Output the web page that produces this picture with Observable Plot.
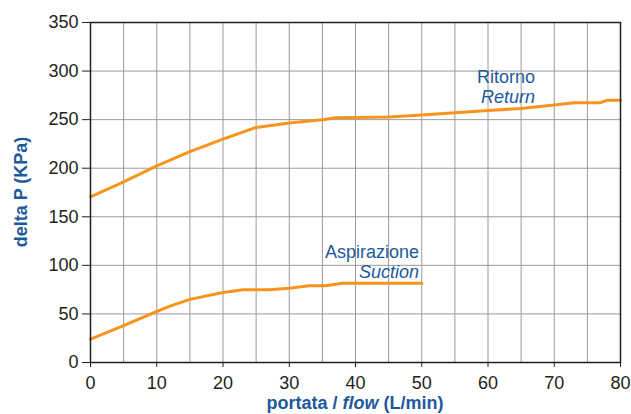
<!DOCTYPE html>
<html>
<head>
<meta charset="utf-8">
<script src="https://cdn.jsdelivr.net/npm/d3@7"></script>
<script src="https://cdn.jsdelivr.net/npm/@observablehq/plot@0.6"></script>
<style>
  html, body { margin: 0; padding: 0; background: #fff; }
</style>
</head>
<body>
<div id="chart"></div>
<script>
// ---- data ----
const returnFlow = [0, 5, 10, 15, 20, 25, 30, 35, 37, 40, 45, 50, 55, 60, 65, 70, 73, 77, 78, 80];
const returnDP   = [170.5, 186, 202.5, 217, 230, 242, 246.5, 250, 252, 252.3, 252.6, 254.7, 257, 259.5, 261.5, 265, 267.5, 267.5, 270, 270];

const suctionFlow = [0, 5, 10, 12, 15, 20, 23, 27, 30, 33, 35.5, 38, 50];
const suctionDP   = [24, 38, 52.5, 58, 65, 72, 75, 75, 76.5, 79, 79, 81.5, 81.5];

const xTicks = [0, 10, 20, 30, 40, 50, 60, 70, 80];
const yTicks = [0, 50, 100, 150, 200, 250, 300, 350];
const xGrid  = [5, 10, 15, 20, 25, 30, 35, 40, 45, 50, 55, 60, 65, 70, 75];
const yGrid  = [50, 100, 150, 200, 250, 300];

const labelIt = ["Ritorno", "Aspirazione"];
const labelEn = ["Return", "Suction"];
const labelX  = [67.1, 49.6];
const labelYIt = [294, 113];
const labelYEn = [273.4, 92.5];

const xTitle = ["portata / ", "flow", " (L/min)"];
const yTitle = "delta P (KPa)";

// ---- build tables ----
const returnData = returnFlow.map((f, i) => ({flow: f, dp: returnDP[i]}));
const suctionData = suctionFlow.map((f, i) => ({flow: f, dp: suctionDP[i]}));
const labels = labelIt.map((t, i) => ({it: t, en: labelEn[i], x: labelX[i], yIt: labelYIt[i], yEn: labelYEn[i]}));

const ORANGE = "#f7941d";
const BLUE = "#1b5a9a";
const INK = "#231f20";
const FONT = "'Liberation Sans', Arial, Helvetica, sans-serif";

const chart = Plot.plot({
  width: 631,
  height: 414,
  marginLeft: 90,
  marginRight: 11,
  marginTop: 22,
  marginBottom: 52,
  style: {fontFamily: FONT, fontSize: "18px", color: INK, background: "white"},
  x: {domain: [0, 80], ticks: xTicks, tickSize: 5, tickPadding: 9, label: null, tickFormat: d => String(d)},
  y: {domain: [0, 350], ticks: yTicks, tickSize: 8, tickPadding: 4, label: null, tickFormat: d => String(d)},
  marks: [
    Plot.ruleX(xGrid, {stroke: "#9a9a9a", strokeWidth: 1}),
    Plot.ruleY(yGrid, {stroke: "#9a9a9a", strokeWidth: 1}),
    Plot.line(returnData, {x: "flow", y: "dp", stroke: ORANGE, strokeWidth: 3, curve: "linear"}),
    Plot.line(suctionData, {x: "flow", y: "dp", stroke: ORANGE, strokeWidth: 3, curve: "linear"}),
    Plot.text(labels, {x: "x", y: "yIt", text: "it", textAnchor: "end", fill: BLUE, fontSize: 18}),
    Plot.text(labels, {x: "x", y: "yEn", text: "en", textAnchor: "end", fill: BLUE, fontSize: 18, fontStyle: "italic"}),
    Plot.frame({stroke: INK, strokeWidth: 1.5})
  ]
});

document.getElementById("chart").appendChild(chart);

const svg = d3.select(chart);

// white boxes behind the series labels
const textGroups = chart.querySelectorAll('g[aria-label="text"]');
if (textGroups.length >= 2) {
  const a = textGroups[0].querySelectorAll("text");
  const b = textGroups[1].querySelectorAll("text");
  const firstLine = chart.querySelector('g[aria-label="line"]');
  for (let i = 0; i < a.length; i++) {
    const r1 = a[i].getBBox(), r2 = b[i] ? b[i].getBBox() : r1;
    // account for transforms on the groups (text uses x/y attrs normally)
    const x0 = Math.min(r1.x, r2.x), y0 = Math.min(r1.y, r2.y);
    const x1 = Math.max(r1.x + r1.width, r2.x + r2.width);
    const y1 = Math.max(r1.y + r1.height, r2.y + r2.height);
    const rect = document.createElementNS("http://www.w3.org/2000/svg", "rect");
    const tr = textGroups[0].getAttribute("transform");
    if (tr) rect.setAttribute("transform", tr);
    rect.setAttribute("x", x0);
    rect.setAttribute("y", y0);
    rect.setAttribute("width", x1 - x0);
    rect.setAttribute("height", y1 - y0);
    rect.setAttribute("fill", "white");
    chart.insertBefore(rect, firstLine);
  }
}

// axis titles
const xt = svg.append("text")
  .attr("x", 355).attr("y", 409)
  .attr("text-anchor", "middle")
  .attr("fill", BLUE)
  .attr("font-weight", "bold")
  .attr("font-size", 18)
  .attr("font-family", FONT);
xt.append("tspan").text(xTitle[0]);
xt.append("tspan").attr("font-style", "italic").text(xTitle[1]);
xt.append("tspan").text(xTitle[2]);

svg.append("text")
  .attr("transform", "translate(26.5,192) rotate(-90)")
  .attr("text-anchor", "middle")
  .attr("fill", BLUE)
  .attr("font-weight", "bold")
  .attr("font-size", 18)
  .attr("font-family", FONT)
  .text(yTitle);
</script>
</body>
</html>
